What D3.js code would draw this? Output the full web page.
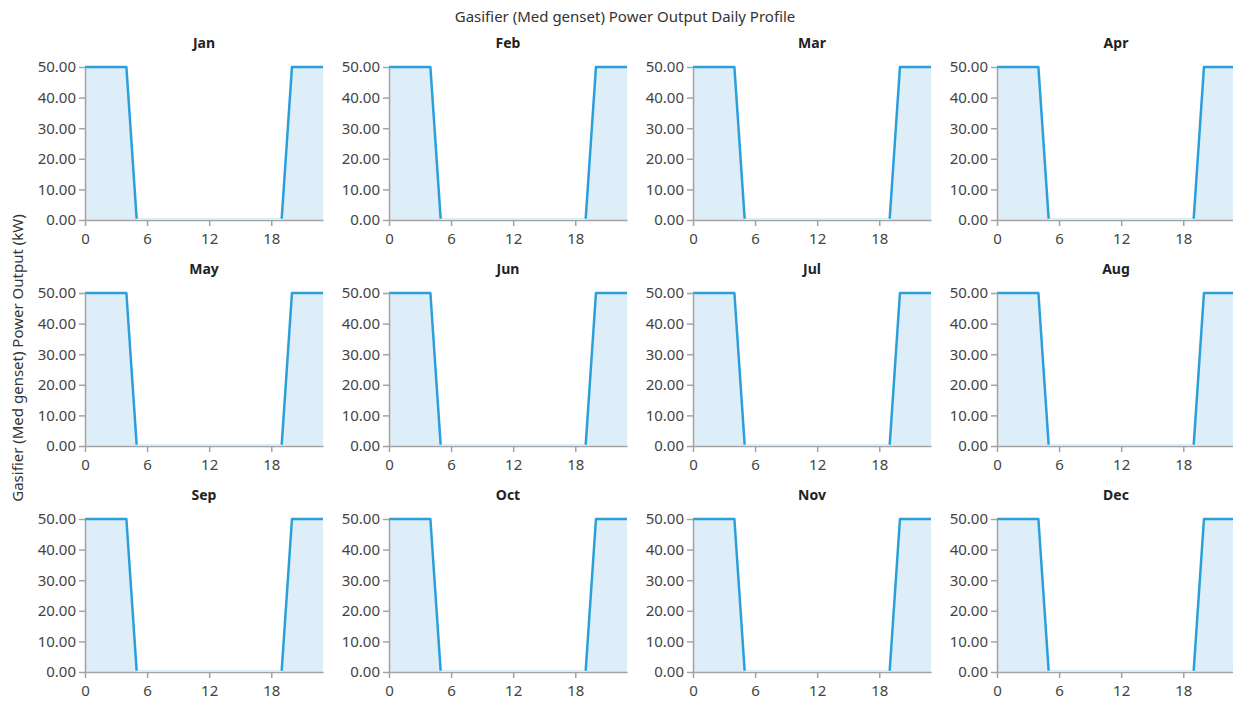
<!DOCTYPE html>
<html>
<head>
<meta charset="utf-8">
<script src="https://cdn.jsdelivr.net/npm/d3@7"></script>
<style>
  body { margin: 0; background: #fff; }
  svg { display: block; font-family: "Segoe UI", "Noto Sans", "Open Sans", sans-serif; }
  .axis path, .axis line { stroke: #a3a3a3; stroke-width: 1.5; }
  .axis text { fill: #444; font-size: 15px; font-family: "Segoe UI", "Noto Sans", "Open Sans", sans-serif; }
</style>
</head>
<body>
<div id="chart"></div>
<script>
var months = ["Jan", "Feb", "Mar", "Apr", "May", "Jun", "Jul", "Aug", "Sep", "Oct", "Nov", "Dec"];
var hours = d3.range(0, 24);
// power output (kW) by hour of day, same profile for every month
var power = [50, 50, 50, 50, 50, 0, 0, 0, 0, 0, 0, 0, 0, 0, 0, 0, 0, 0, 0, 0, 50, 50, 50, 50];
var xTicks = [0, 6, 12, 18];
var yTicks = [0, 10, 20, 30, 40, 50];

var width = 1233, height = 702;
var plotW = 238, plotH = 153;
var left0 = 85, top0 = 67, colStep = 304, rowStep = 226;

var svg = d3.select("#chart").append("svg")
    .attr("width", width)
    .attr("height", height);

svg.append("text")
    .attr("x", 625)
    .attr("y", 22)
    .attr("text-anchor", "middle")
    .style("font-size", "15px")
    .style("fill", "#333")
    .text("Gasifier (Med genset) Power Output Daily Profile");

svg.append("text")
    .attr("transform", "translate(23,358) rotate(-90)")
    .attr("text-anchor", "middle")
    .style("font-size", "15px")
    .style("fill", "#333")
    .text("Gasifier (Med genset) Power Output (kW)");

var x = d3.scaleLinear().domain([0, 23]).range([0, plotW]);
var y = d3.scaleLinear().domain([0, 50]).range([plotH, 0]);

var area = d3.area()
    .x(function (d, i) { return x(hours[i]); })
    .y0(y(0))
    .y1(function (d) { return y(d); });

var line = d3.line()
    .x(function (d, i) { return x(hours[i]); })
    .y(function (d) { return y(d); });

// keep the flat zero run of the line hidden under the x axis
svg.append("defs").append("clipPath")
    .attr("id", "clip")
    .append("rect")
    .attr("x", -5)
    .attr("y", -5)
    .attr("width", plotW + 10)
    .attr("height", plotH + 5 - 1.25);

months.forEach(function (m, k) {
    var col = k % 4, row = Math.floor(k / 4);
    var g = svg.append("g")
        .attr("transform", "translate(" + (left0 + col * colStep) + "," + (top0 + row * rowStep) + ")");

    g.append("text")
        .attr("x", plotW / 2)
        .attr("y", -19)
        .attr("text-anchor", "middle")
        .style("font-size", "14px")
        .style("font-weight", "bold")
        .style("fill", "#222")
        .text(m);

    g.append("path")
        .datum(power)
        .attr("d", area)
        .style("fill", "#ddeef8");

    g.append("path")
        .datum(power)
        .attr("d", line)
        .attr("clip-path", "url(#clip)")
        .style("fill", "none")
        .style("stroke", "#2b9fdb")
        .style("stroke-width", 2.5)
        .style("stroke-linejoin", "round");

    g.append("g")
        .attr("class", "axis")
        .attr("transform", "translate(0," + plotH + ")")
        .call(d3.axisBottom(x).tickValues(xTicks).tickSize(6).tickSizeOuter(0).tickPadding(7));

    g.append("g")
        .attr("class", "axis")
        .call(d3.axisLeft(y).tickValues(yTicks).tickFormat(d3.format(".2f")).tickSize(6).tickSizeOuter(0).tickPadding(3));
});
</script>
</body>
</html>
